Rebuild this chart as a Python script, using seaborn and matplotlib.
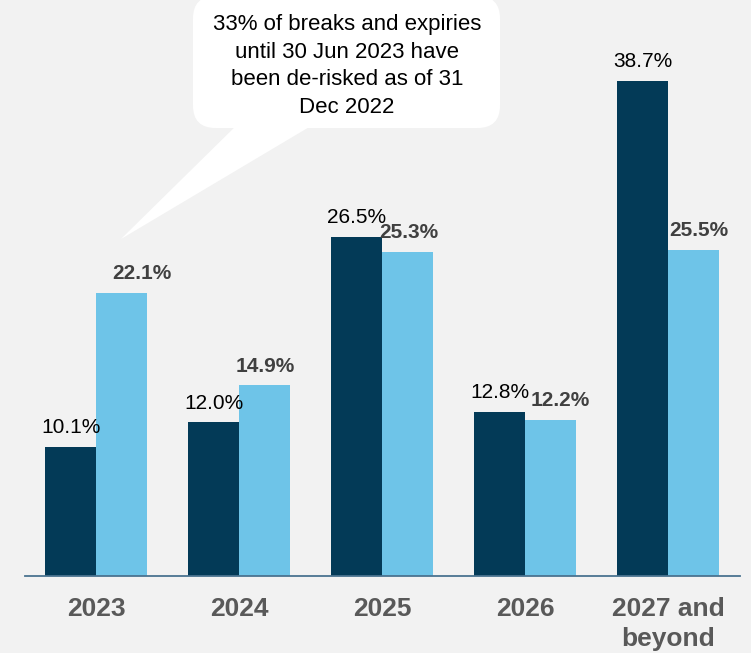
import matplotlib
matplotlib.use('Agg')
import matplotlib.pyplot as plt
from matplotlib.patches import FancyBboxPatch, Polygon
import pandas as pd
import seaborn as sns

# --- Data ---
years = ["2023", "2024", "2025", "2026", "2027 and\nbeyond"]
series = ["Series A", "Series B"]
dark_vals = [10.1, 12.0, 26.5, 12.8, 38.7]
light_vals = [22.1, 14.9, 25.3, 12.2, 25.5]
callout = "33% of breaks and expiries\nuntil 30 Jun 2023 have\nbeen de-risked as of 31\nDec 2022"

# label x nudges (points) for the light bar labels, as in the source
light_nudge = [14, 0, 1, 7, 4]

DARK = "#033a57"
LIGHT = "#6ec4e8"
BG = "#f2f2f2"

df = pd.DataFrame({
    "year": years * 2,
    "series": [series[0]] * len(years) + [series[1]] * len(years),
    "value": dark_vals + light_vals,
})

sns.set_theme(style="white")
plt.rcParams['font.family'] = ['Liberation Sans', 'DejaVu Sans']

W, H = 751, 653
fig = plt.figure(figsize=(W / 100, H / 100), dpi=100, facecolor=BG)
ax = fig.add_axes([25 / W, 1 - 576 / H, 714.5 / W, 576 / H])
ax.set_facecolor(BG)

sns.barplot(data=df, x="year", y="value", hue="series", order=years,
            hue_order=series, palette=[DARK, LIGHT], width=0.714,
            saturation=1, legend=False, linewidth=0, ax=ax)

ax.set_xlim(-0.5, 4.5)
ax.set_ylim(0, 45)

# value labels
for bar, v in zip(ax.containers[0], dark_vals):
    ax.annotate(f"{v:.1f}%", (bar.get_x() + bar.get_width() / 2, bar.get_height()),
                xytext=(0, 7), textcoords="offset points", ha="center", va="bottom",
                fontsize=15, color="black")
for bar, v, dx in zip(ax.containers[1], light_vals, light_nudge):
    ax.annotate(f"{v:.1f}%", (bar.get_x() + bar.get_width() / 2, bar.get_height()),
                xytext=(dx, 7), textcoords="offset points", ha="center", va="bottom",
                fontsize=15, fontweight="bold", color="#404040")

# axes styling
for s in ["top", "right", "left"]:
    ax.spines[s].set_visible(False)
ax.spines["bottom"].set_color("#4a7390")
ax.spines["bottom"].set_linewidth(1.3)
ax.set_yticks([])
ax.set_xlabel("")
ax.set_ylabel("")
ax.tick_params(axis="x", length=0, pad=15, labelsize=19, labelcolor="#595959")
for t in ax.get_xticklabels():
    t.set_fontweight("bold")
    t.set_linespacing(1.3)

# callout bubble (figure pixel coords)
def px(x, y):
    return (x / W, 1 - y / H)

tail = Polygon([px(242, 120), px(321, 120), px(121, 239)], closed=True,
               transform=fig.transFigure, fc="white", ec="none", zorder=5)
fig.patches.append(tail)
x0, y0 = px(193, 128)
x1, y1 = px(500, -4)
box = FancyBboxPatch((x0, y0), x1 - x0, y1 - y0,
                     boxstyle="round,pad=0,rounding_size=0.03",
                     transform=fig.transFigure, fc="white", ec="none", zorder=5,
                     mutation_aspect=W / H)
fig.patches.append(box)
fig.text(*px(347, 66), callout, ha="center", va="center", fontsize=16,
         linespacing=1.4, color="black", zorder=6)

plt.savefig("out.png", dpi=100, facecolor=BG)
